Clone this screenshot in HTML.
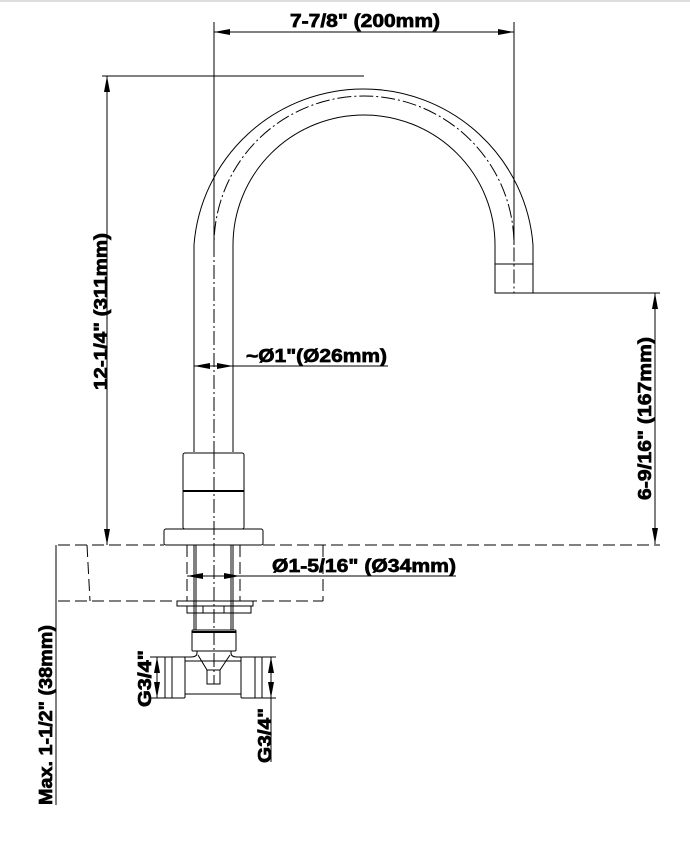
<!DOCTYPE html>
<html><head><style>
html,body{margin:0;padding:0;background:#fff;}
svg{display:block;}
text{font-family:"Liberation Sans",Arial,sans-serif;font-weight:bold;fill:#000;stroke:#000;stroke-width:0.7;}
</style></head><body>
<svg width="690" height="850" viewBox="0 0 690 850" xmlns="http://www.w3.org/2000/svg">
<defs>
<marker id="a" viewBox="0 0 16 6" refX="16" refY="3" markerWidth="16" markerHeight="6" markerUnits="userSpaceOnUse" orient="auto-start-reverse"><path d="M0,0 L16,3 L0,6 Z" fill="#000"/></marker>
</defs>
<rect x="0" y="0" width="690" height="2" fill="#ddd"/>
<g fill="none" stroke="#000" stroke-width="1">
<path d="M194,452 L194,245 A170,169 0 0 1 533,245 L533,293"/>
<path d="M233,452 L233,245 A131,130 0 0 1 495,245 L495,293 L533,293"/>
<line x1="495" y1="264" x2="533" y2="264"/>
<path d="M214,455 L214,245 A150,149 0 0 1 514,245 L514,293" stroke-dasharray="14,3,2,3"/>
<rect x="183" y="453" width="61" height="76" rx="2"/>
<line x1="183" y1="491" x2="244" y2="491" stroke-width="2"/>
<rect x="164" y="529" width="99" height="16" rx="2"/>
<line x1="194" y1="545" x2="194" y2="630"/><line x1="196" y1="545" x2="196" y2="630"/>
<line x1="231" y1="545" x2="231" y2="630"/><line x1="233" y1="545" x2="233" y2="630"/>
<g stroke-dasharray="12,5">
<line x1="58" y1="545" x2="164" y2="545"/>
<line x1="263" y1="545" x2="660" y2="545"/>
<line x1="58" y1="601" x2="323" y2="601"/>
<line x1="87" y1="545" x2="90" y2="601"/>
<line x1="187" y1="545" x2="187" y2="601"/>
<line x1="240" y1="545" x2="240" y2="601"/>
<line x1="323" y1="545" x2="323" y2="601"/>
</g>
<rect x="177" y="601" width="76" height="5"/>
<rect x="187" y="606" width="64" height="7"/>
<line x1="203" y1="606" x2="203" y2="613"/><line x1="224" y1="606" x2="224" y2="613"/>
<rect x="192" y="630" width="44" height="21" rx="1"/>
<line x1="192" y1="632" x2="236" y2="632" stroke-width="2"/>
<path d="M197,651 L197,653 Q197,657 191,657 L184,657 M231,651 L231,653 Q231,657 237,657 L241,657"/>
<path d="M198,655 L207,670 L220,670 L230,655"/>
<rect x="207" y="670" width="13" height="14"/>
<path d="M185,661 L241,661 M185,694 L241,694"/>
<rect x="165" y="657" width="20" height="41" rx="1"/>
<line x1="172" y1="657" x2="172" y2="698"/>
<rect x="241" y="657" width="21" height="41" rx="1"/>
<line x1="255" y1="657" x2="255" y2="698"/>
<line x1="214" y1="455" x2="214" y2="684" stroke-dasharray="14,3,2,3"/>
<line x1="214" y1="22" x2="214" y2="245"/>
<line x1="514" y1="22" x2="514" y2="245"/>
<line x1="214" y1="32" x2="514" y2="32" marker-start="url(#a)" marker-end="url(#a)"/>
<line x1="102" y1="76" x2="364" y2="76"/>
<line x1="107" y1="76" x2="107" y2="545" marker-start="url(#a)" marker-end="url(#a)"/>
<line x1="533" y1="293" x2="660" y2="293"/>
<line x1="655" y1="293" x2="655" y2="544" marker-start="url(#a)" marker-end="url(#a)"/>
<line x1="194" y1="366" x2="233" y2="366" marker-start="url(#a)" marker-end="url(#a)"/>
<line x1="233" y1="366" x2="388" y2="366"/>
<line x1="187" y1="576" x2="240" y2="576" marker-start="url(#a)" marker-end="url(#a)"/>
<line x1="240" y1="576" x2="456" y2="576"/>
<line x1="56" y1="545" x2="56" y2="805"/>
<line x1="150" y1="657" x2="165" y2="657"/><line x1="150" y1="698" x2="165" y2="698"/>
<line x1="157" y1="657" x2="157" y2="698" marker-start="url(#a)" marker-end="url(#a)"/>
<line x1="262" y1="657" x2="276" y2="657"/><line x1="262" y1="698" x2="276" y2="698"/>
<line x1="271" y1="657" x2="271" y2="698" marker-start="url(#a)" marker-end="url(#a)"/>
<line x1="271" y1="698" x2="271" y2="762"/>
</g>
<text x="290" y="27" font-size="18" textLength="150" lengthAdjust="spacingAndGlyphs">7-7/8" (200mm)</text>
<text x="246" y="362" font-size="18" textLength="141" lengthAdjust="spacingAndGlyphs">~Ø1"(Ø26mm)</text>
<text x="272" y="572" font-size="18" textLength="184" lengthAdjust="spacingAndGlyphs">Ø1-5/16" (Ø34mm)</text>
<text transform="translate(107,390) rotate(-90)" font-size="18" textLength="157" lengthAdjust="spacingAndGlyphs">12-1/4" (311mm)</text>
<text transform="translate(651,500) rotate(-90)" font-size="18" textLength="163" lengthAdjust="spacingAndGlyphs">6-9/16" (167mm)</text>
<text transform="translate(52,805) rotate(-90)" font-size="18" textLength="180" lengthAdjust="spacingAndGlyphs">Max. 1-1/2" (38mm)</text>
<text transform="translate(151,707) rotate(-90)" font-size="18" textLength="57" lengthAdjust="spacingAndGlyphs">G3/4"</text>
<text transform="translate(271,763) rotate(-90)" font-size="18" textLength="55" lengthAdjust="spacingAndGlyphs">G3/4"</text>
</svg>
</body></html>
